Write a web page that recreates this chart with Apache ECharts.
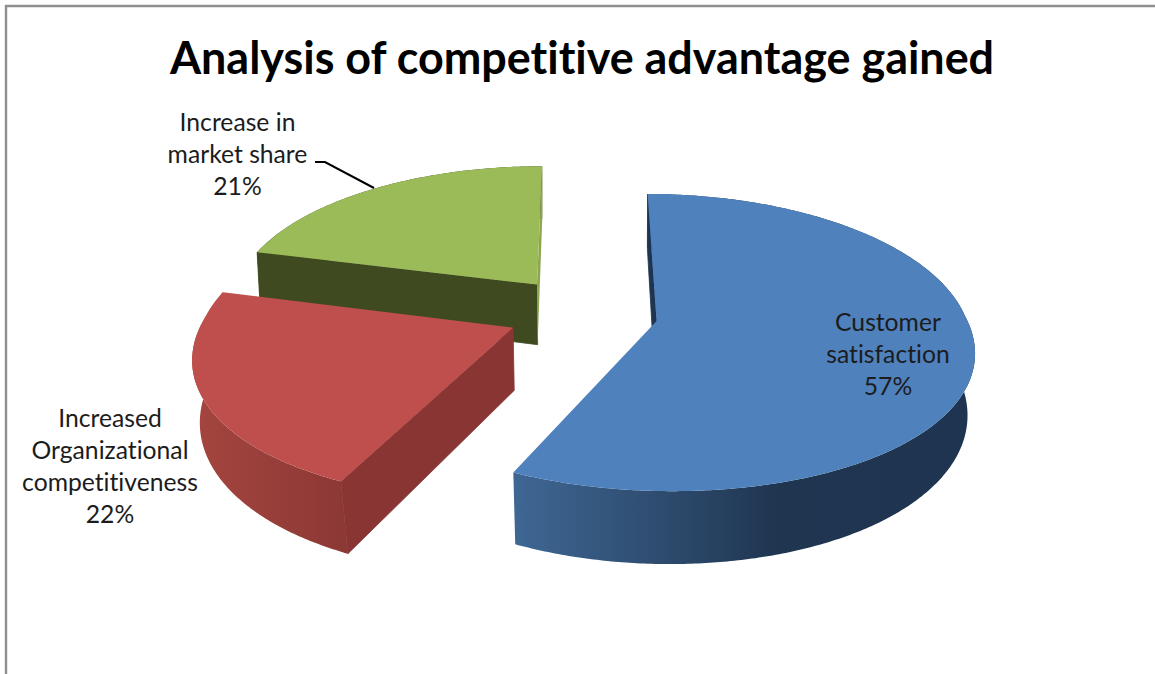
<!DOCTYPE html>
<html>
<head>
<meta charset="utf-8">
<style>
html,body{margin:0;padding:0;background:#fff}
#chart{width:1155px;height:674px}
#chart text{font-variant-ligatures:none !important}
</style>
<script src="https://cdn.jsdelivr.net/npm/echarts@6/dist/echarts.min.js"></script>
</head>
<body>
<div id="chart"></div>
<script>
const titleText = 'Analysis of competitive advantage gained';
const categories = ['Customer\nsatisfaction', 'Increased\nOrganizational\ncompetitiveness', 'Increase in\nmarket share'];
const shares = [57, 22, 21];

// Ground-plane projection of the tilted, exploded pie.
const view = { cx: 582, cy: 316, rx: 309, ry: 144, perspFront: 0.175, perspBack: 0.135, perspY: 0.145, depth: 62 };
const explode = [[0.24, 0.034], [-0.22, 0.08], [-0.15, -0.225]];
const topColors = ['#4f81bd', '#be4f4c', '#9bbb59'];
const rimStops = [
  [[0, '#3f6794'], [0.58, '#1f3550'], [1, '#1e3450']],
  [[0, '#a5453f'], [1, '#8c3835']],
  [[0, '#3f4a20'], [1, '#3f4a20']]
];
const rimSpan = [[513, 975], [192, 345], [250, 545]];
// Only the cut faces turned towards the viewer get painted.
const startCut = ['#1d3551', '#883533', '#3f4a20'];
const endCut = [null, null, '#8ba64f'];
const labelAnchors = [[888, 353], [110, 465], [237.5, 153]];
const leader = [[315, 162], [325, 162], [374, 188]];
const labelFont = 'Lato, "Open Sans", sans-serif';

const total = shares.reduce((a, b) => a + b, 0);
const sweeps = [];
shares.reduce((from, v) => {
  const to = from + v / total * 2 * Math.PI;
  sweeps.push([from, to]);
  return to;
}, 0);

function project(u, v) {
  const sx = 1 / (1 - (v < 0 ? view.perspBack : view.perspFront) * v);
  const sy = 1 / (1 - view.perspY * v);
  return [view.cx + view.rx * u * sx, view.cy + view.ry * v * sy, sy, v];
}
function upper(i, radius, angle) {
  return project(explode[i][0] + radius * Math.sin(angle), explode[i][1] - radius * Math.cos(angle));
}
// Walls narrow slightly towards the base, more so nearer the viewer.
function lower(pt) {
  const pull = 0.016 + 0.013 * pt[3];
  return [pt[0] + (view.cx - pt[0]) * pull, pt[1] + view.depth * pt[2]];
}
function arc(i) {
  const pts = [];
  const [a, b] = sweeps[i];
  const n = Math.ceil((b - a) / 0.01);
  for (let k = 0; k <= n; k++) pts.push(upper(i, 1, a + (b - a) * k / n));
  return pts;
}
function poly(points, fill, seal) {
  return { type: 'polygon', shape: { points: points.map(p => [p[0], p[1]]) },
    style: { fill, stroke: seal ? fill : null, lineWidth: seal ? 0.8 : 0 } };
}

function renderSlice(params, api) {
  const i = api.value(0);
  const rim = arc(i);
  const apex = upper(i, 0, 0);
  const first = rim[0];
  const last = rim[rim.length - 1];
  const wallFill = { type: 'linear', x: rimSpan[i][0], y: 0, x2: rimSpan[i][1], y2: 0, global: true,
    colorStops: rimStops[i].map(s => ({ offset: s[0], color: s[1] })) };
  const children = [poly(rim.concat(rim.map(lower).reverse()), wallFill, false)];
  if (startCut[i]) children.push(poly([apex, first, lower(first), lower(apex)], startCut[i], true));
  if (endCut[i]) children.push(poly([apex, last, lower(last), lower(apex)], endCut[i], false));
  children.push(poly([apex].concat(rim), topColors[i], false));
  return { type: 'group', children };
}

function renderLabel(params, api) {
  const i = api.value(0);
  return {
    type: 'text',
    x: labelAnchors[i][0],
    y: labelAnchors[i][1],
    style: {
      text: categories[i] + '\n' + shares[i] + '%',
      font: '24.7px ' + labelFont,
      fill: '#1c1c1c',
      align: 'center',
      verticalAlign: 'middle',
      lineHeight: 32
    }
  };
}

const chart = echarts.init(document.getElementById('chart'), null, { renderer: 'svg' });
chart.setOption({
  animation: false,
  backgroundColor: '#ffffff',
  title: {
    text: titleText,
    left: 577,
    top: 29.5,
    textAlign: 'center',
    textStyle: { fontFamily: labelFont, fontWeight: 700, fontSize: 44.9, color: '#000000' }
  },
  graphic: [
    { type: 'polyline', silent: true, z: 1,
      shape: { points: [[6, 674], [6, 6], [1155, 6]] },
      style: { stroke: '#8f8f8f', lineWidth: 2.4, fill: null } },
    { type: 'polyline', silent: true, z: 5,
      shape: { points: leader },
      style: { stroke: '#000000', lineWidth: 2, fill: null } }
  ],
  series: [
    // Painted back to front: the green slice sits behind the red one.
    { type: 'custom', coordinateSystem: 'none', silent: true, renderItem: renderSlice,
      data: [[2], [1], [0]] },
    { type: 'custom', coordinateSystem: 'none', silent: true, z: 4, renderItem: renderLabel,
      data: [[0], [1], [2]] }
  ]
});
</script>
</body>
</html>
